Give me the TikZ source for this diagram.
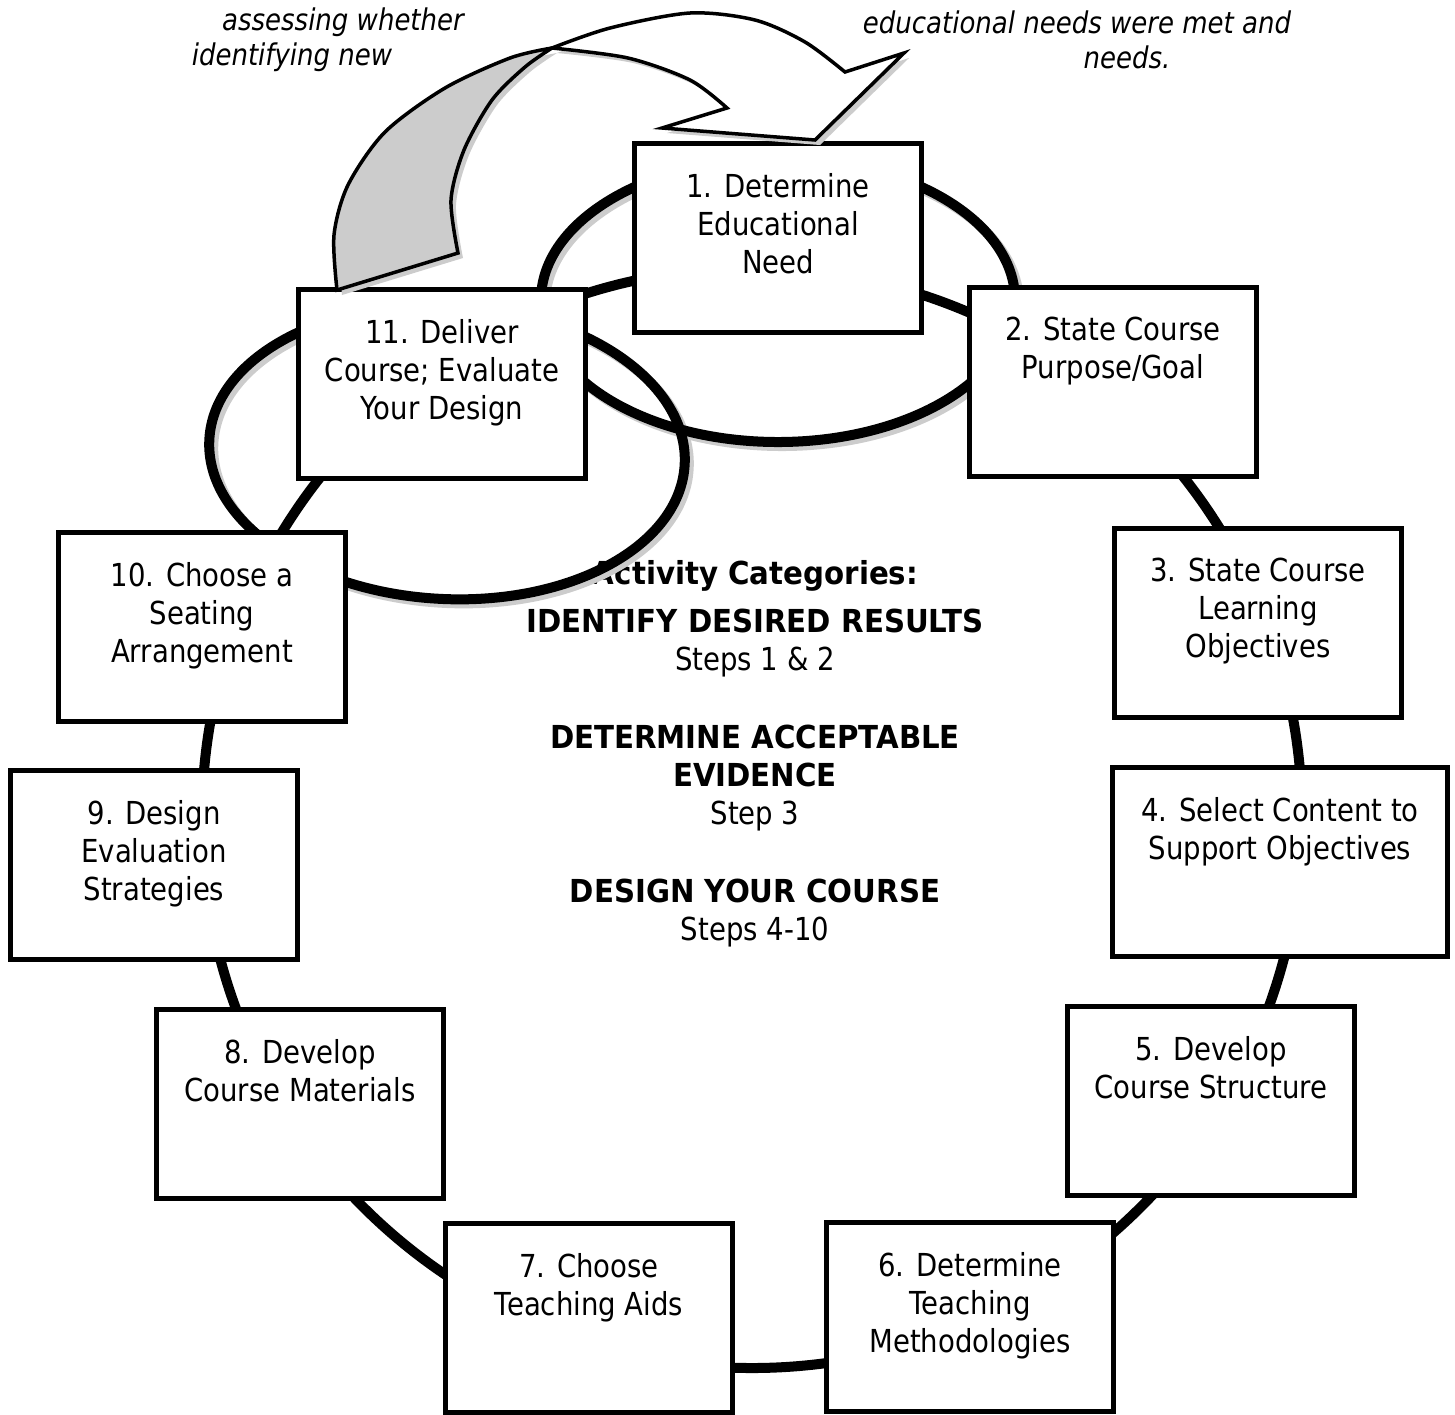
\documentclass[tikz,border=0pt]{standalone}
\usepackage{fontspec}
\setmainfont{DejaVu Sans}[FakeStretch=0.87, BoldFeatures={FakeStretch=0.925}]
\usetikzlibrary{calc}

\tikzset{
  stepbox/.style={draw, line width=0.05cm, fill=white, minimum width=2.87cm, minimum height=1.88cm, inner sep=0pt},
  steptext/.style={anchor=north, align=center, inner sep=0pt, font=\fontsize{9pt}{10.8pt}\selectfont},
  ringline/.style={line width=0.1cm},
  loopshade/.style={line width=0.1cm, draw=black!20, shift={(4,4)}},
  note/.style={inner sep=0pt, font=\fontsize{8.5pt}{10pt}\selectfont\itshape},
}
% the curved arrow back to step 1
\newcommand{\arrowtail}{plot[smooth] coordinates {(337,290) (334,235) (348,185) (385,132) (445,88) (510,58) (552,48)}
  -- plot[smooth] coordinates {(552,48) (525,67) (492,100) (464,150) (451,200) (458,253)} -- cycle}
\newcommand{\arrowbody}{plot[smooth] coordinates {(552,48) (610,28) (690,13) (755,20) (805,42) (845,72)}
  -- (904,53) -- (815,140) -- (662,128) -- (727,108)
  -- plot[smooth] coordinates {(727,108) (690,80) (628,58) (552,48)} -- cycle}

\begin{document}
\begin{tikzpicture}[x=0.01cm, y=-0.01cm]
\useasboundingbox (0,0) rectangle (1455,1414);

\node[note] (noteL1) at (343,22) {assessing whether};
\node[note] (noteL2) at (292,57) {identifying new};
\node[note] (noteR1) at (1077,22) {educational needs were met and};
\node[note] (noteR2) at (1127,57) {needs.};

\node[anchor=north, align=center, inner sep=0pt, font=\fontsize{9pt}{10.8pt}\selectfont] (cats) at (755,560)
  {\textbf{Activity Categories:}\\[0.1cm]
   \textbf{IDENTIFY DESIRED RESULTS}\\ Steps 1 \& 2\\[0.4cm]
   \textbf{DETERMINE ACCEPTABLE}\\ \textbf{EVIDENCE}\\ Step 3\\[0.4cm]
   \textbf{DESIGN YOUR COURSE}\\ Steps 4-10};

% big cycle and the two small loops
\coordinate (ring) at (752,818);
\draw[ringline] (ring) circle (550);
\draw[loopshade] (778,300) ellipse [x radius=237, y radius=142];
\draw[loopshade, rotate around={-3:(447,452)}] (447,452) ellipse [x radius=238, y radius=147];
\draw[ringline] (778,300) ellipse [x radius=237, y radius=142];
\draw[ringline, rotate around={-3:(447,452)}] (447,452) ellipse [x radius=238, y radius=147];

\node[stepbox] (b1) at (778,238) {};
\node[stepbox] (b2) at (1113,382) {};
\node[stepbox] (b3) at (1258,623) {};
\node[stepbox, minimum width=3.35cm] (b4) at (1280,862) {};
\node[stepbox] (b5) at (1211,1101) {};
\node[stepbox] (b6) at (970,1317) {};
\node[stepbox] (b7) at (589,1318) {};
\node[stepbox] (b8) at (300,1104) {};
\node[stepbox] (b9) at (154,865) {};
\node[stepbox] (b10) at (202,627) {};
\node[stepbox] (b11) at (442,384) {};

\node[steptext] (t1) at ($(b1.north)+(0,31)$) {1. Determine\\Educational\\Need};
\node[steptext] (t2) at ($(b2.north)+(0,31)$) {2. State Course\\Purpose/Goal};
\node[steptext] (t3) at ($(b3.north)+(0,31)$) {3. State Course\\Learning\\Objectives};
\node[steptext] (t4) at ($(b4.north)+(0,31)$) {4. Select Content to\\Support Objectives};
\node[steptext] (t5) at ($(b5.north)+(0,31)$) {5. Develop\\Course Structure};
\node[steptext] (t6) at ($(b6.north)+(0,31)$) {6. Determine\\Teaching\\Methodologies};
\node[steptext] (t7) at ($(b7.north)+(0,31)$) {7. Choose\\Teaching Aids};
\node[steptext] (t8) at ($(b8.north)+(0,31)$) {8. Develop\\Course Materials};
\node[steptext] (t9) at ($(b9.north)+(0,31)$) {9. Design\\Evaluation\\Strategies};
\node[steptext] (t10) at ($(b10.north)+(0,31)$) {10. Choose a\\Seating\\Arrangement};
\node[steptext] (t11) at ($(b11.north)+(0,31)$) {11. Deliver\\Course; Evaluate\\Your Design};

% arrow
\begin{scope}[shift={(5,5)}]
\fill[black!20] \arrowtail;
\fill[black!20] \arrowbody;
\end{scope}
\filldraw[fill=black!20, line width=0.035cm] \arrowtail;
\filldraw[fill=white, line width=0.035cm] \arrowbody;
\end{tikzpicture}
\end{document}
